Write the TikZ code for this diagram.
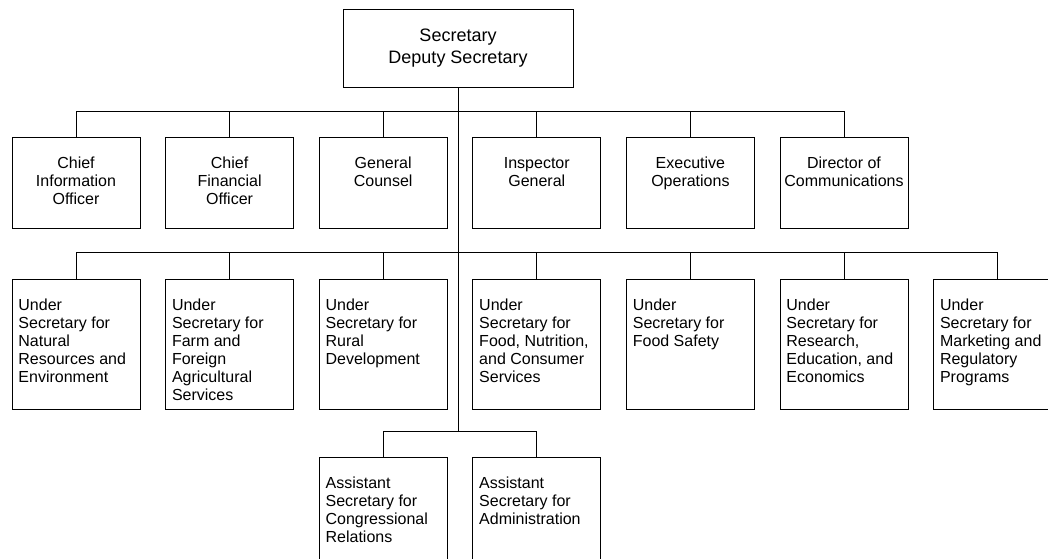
\documentclass[tikz,border=0pt]{standalone}
\usepackage{fontspec}
\setmainfont{Liberation Sans}
\usetikzlibrary{positioning}

\tikzset{
    orgline/.style={line width=0.75pt},
    headbox/.style={draw, line width=0.75pt, minimum width=172.5pt, minimum height=58.5pt,
        align=center, font=\fontsize{13.5}{16}\selectfont},
    staffbox/.style={draw, line width=0.75pt, anchor=north west, minimum width=96pt,
        minimum height=68.25pt, inner sep=0pt},
    underbox/.style={draw, line width=0.75pt, anchor=north west, minimum width=96pt,
        minimum height=97.5pt, inner sep=0pt},
    stafftext/.style={anchor=north, align=center, inner sep=0pt, yshift=-15pt,
        font=\fontsize{12}{13.5}\selectfont},
    undertext/.style={anchor=north west, align=left, inner sep=0pt, xshift=5pt, yshift=-15pt,
        font=\fontsize{12}{13.5}\selectfont}
}

\begin{document}
\begin{tikzpicture}[x=0.75pt, y=-0.75pt]
    \useasboundingbox (0,0) rectangle (1048,558);

    % top
    \node[headbox] (sec) at (458,48) {Secretary\\Deputy Secretary};

    \coordinate (bus1) at (458,111);
    \coordinate (bus2) at (458,252);
    \coordinate (bus3) at (458,431);

    % staff offices
    \node[staffbox] (c1) at (11.5,137) {};
    \node[staffbox, right=18.45pt of c1] (c2) {};
    \node[staffbox, right=18.45pt of c2] (c3) {};
    \node[staffbox, right=18.45pt of c3] (c4) {};
    \node[staffbox, right=18.45pt of c4] (c5) {};
    \node[staffbox, right=18.45pt of c5] (c6) {};

    \node[stafftext] (c1t) at (c1.north) {Chief\\Information\\Officer};
    \node[stafftext] (c2t) at (c2.north) {Chief\\Financial\\Officer};
    \node[stafftext] (c3t) at (c3.north) {General\\Counsel};
    \node[stafftext] (c4t) at (c4.north) {Inspector\\General};
    \node[stafftext] (c5t) at (c5.north) {Executive\\Operations};
    \node[stafftext] (c6t) at (c6.north) {Director of\\Communications};

    % under secretaries
    \node[underbox] (u1) at (11.5,279) {};
    \node[underbox, right=18.45pt of u1] (u2) {};
    \node[underbox, right=18.45pt of u2] (u3) {};
    \node[underbox, right=18.45pt of u3] (u4) {};
    \node[underbox, right=18.45pt of u4] (u5) {};
    \node[underbox, right=18.45pt of u5] (u6) {};
    \node[underbox, right=18.45pt of u6] (u7) {};

    \node[undertext] (u1t) at (u1.north west) {Under\\Secretary for\\Natural\\Resources and\\Environment};
    \node[undertext] (u2t) at (u2.north west) {Under\\Secretary for\\Farm and\\Foreign\\Agricultural\\Services};
    \node[undertext] (u3t) at (u3.north west) {Under\\Secretary for\\Rural\\Development};
    \node[undertext] (u4t) at (u4.north west) {Under\\Secretary for\\Food, Nutrition,\\and Consumer\\Services};
    \node[undertext] (u5t) at (u5.north west) {Under\\Secretary for\\Food Safety};
    \node[undertext] (u6t) at (u6.north west) {Under\\Secretary for\\Research,\\Education, and\\Economics};
    \node[undertext] (u7t) at (u7.north west) {Under\\Secretary for\\Marketing and\\Regulatory\\Programs};

    % assistant secretaries
    \node[underbox] (a1) at (u3.west |- 0,457) {};
    \node[underbox, right=18.45pt of a1] (a2) {};

    \node[undertext] (a1t) at (a1.north west) {Assistant\\Secretary for\\Congressional\\Relations};
    \node[undertext] (a2t) at (a2.north west) {Assistant\\Secretary for\\Administration};

    % connectors
    \draw[orgline] (sec.south) -- (bus3);
    \draw[orgline] (sec.south) -- (bus1) -| (c1.north);
    \draw[orgline] (sec.south) -- (bus1) -| (c2.north);
    \draw[orgline] (sec.south) -- (bus1) -| (c3.north);
    \draw[orgline] (sec.south) -- (bus1) -| (c4.north);
    \draw[orgline] (sec.south) -- (bus1) -| (c5.north);
    \draw[orgline] (sec.south) -- (bus1) -| (c6.north);
    \draw[orgline] (sec.south) -- (bus2) -| (u1.north);
    \draw[orgline] (sec.south) -- (bus2) -| (u2.north);
    \draw[orgline] (sec.south) -- (bus2) -| (u3.north);
    \draw[orgline] (sec.south) -- (bus2) -| (u4.north);
    \draw[orgline] (sec.south) -- (bus2) -| (u5.north);
    \draw[orgline] (sec.south) -- (bus2) -| (u6.north);
    \draw[orgline] (sec.south) -- (bus2) -| (u7.north);
    \draw[orgline] (sec.south) -- (bus3) -| (a1.north);
    \draw[orgline] (sec.south) -- (bus3) -| (a2.north);
\end{tikzpicture}
\end{document}
